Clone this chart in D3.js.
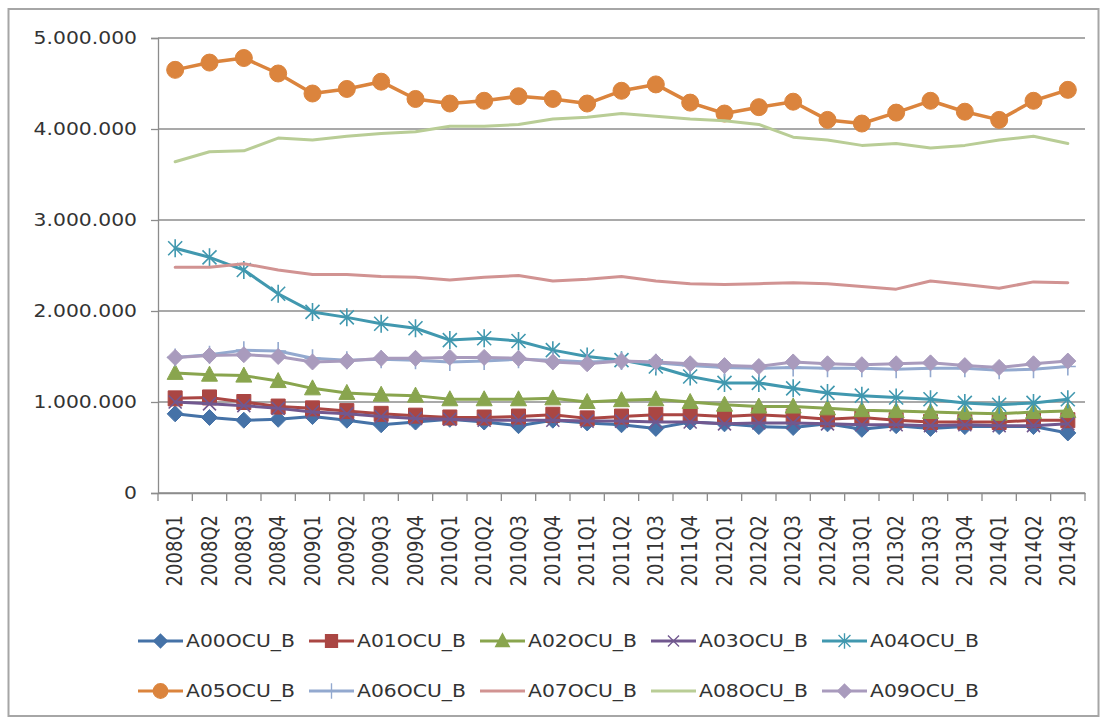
<!DOCTYPE html>
<html>
<head>
<meta charset="utf-8">
<script src="https://cdn.jsdelivr.net/npm/d3@7/dist/d3.min.js"></script>
<style>
  body { margin: 0; background: #fff; }
  text { font-family: "DejaVu Sans", sans-serif; fill: #333; }
</style>
</head>
<body>
<svg id="chart"></svg>
<script>
"use strict";

// Quarter labels on the x axis
const quarters = ["2008Q1", "2008Q2", "2008Q3", "2008Q4", "2009Q1", "2009Q2", "2009Q3", "2009Q4",
                  "2010Q1", "2010Q2", "2010Q3", "2010Q4", "2011Q1", "2011Q2", "2011Q3", "2011Q4",
                  "2012Q1", "2012Q2", "2012Q3", "2012Q4", "2013Q1", "2013Q2", "2013Q3", "2013Q4",
                  "2014Q1", "2014Q2", "2014Q3"];

const series_names = ["A00OCU_B", "A01OCU_B", "A02OCU_B", "A03OCU_B", "A04OCU_B",
                      "A05OCU_B", "A06OCU_B", "A07OCU_B", "A08OCU_B", "A09OCU_B"];

// Values
const a00 = [870000, 830000, 800000, 810000, 840000, 800000, 750000, 780000, 810000, 780000, 740000, 800000, 770000, 750000,
             710000, 780000, 760000, 730000, 720000, 760000, 700000, 740000, 710000, 730000, 730000, 730000, 660000];
const a01 = [1040000, 1050000, 1000000, 950000, 930000, 900000, 870000, 850000, 830000, 830000, 840000, 860000, 820000, 840000,
             860000, 860000, 840000, 860000, 840000, 810000, 830000, 800000, 780000, 780000, 780000, 800000, 800000];
const a02 = [1320000, 1300000, 1290000, 1230000, 1150000, 1100000, 1080000, 1070000, 1030000, 1030000, 1030000, 1040000, 1000000, 1020000,
             1030000, 1000000, 970000, 950000, 950000, 930000, 910000, 900000, 890000, 880000, 870000, 890000, 900000];
const a03 = [1000000, 980000, 960000, 930000, 890000, 870000, 840000, 820000, 810000, 800000, 800000, 800000, 790000, 790000,
             780000, 780000, 760000, 770000, 770000, 760000, 750000, 750000, 740000, 750000, 740000, 740000, 760000];
const a04 = [2690000, 2590000, 2450000, 2190000, 1990000, 1930000, 1860000, 1810000, 1680000, 1700000, 1670000, 1570000, 1500000, 1460000,
             1390000, 1280000, 1210000, 1210000, 1150000, 1100000, 1070000, 1050000, 1030000, 990000, 970000, 990000, 1030000];
const a05 = [4650000, 4730000, 4780000, 4610000, 4390000, 4440000, 4520000, 4330000, 4280000, 4310000, 4360000, 4330000, 4280000, 4420000,
             4490000, 4290000, 4170000, 4240000, 4300000, 4100000, 4060000, 4180000, 4310000, 4190000, 4100000, 4310000, 4430000];
const a06 = [1490000, 1520000, 1570000, 1560000, 1480000, 1460000, 1470000, 1460000, 1440000, 1450000, 1470000, 1460000, 1440000, 1450000,
             1430000, 1400000, 1380000, 1370000, 1380000, 1370000, 1370000, 1360000, 1370000, 1370000, 1350000, 1360000, 1390000];
const a07 = [2480000, 2480000, 2520000, 2450000, 2400000, 2400000, 2380000, 2370000, 2340000, 2370000, 2390000, 2330000, 2350000, 2380000,
             2330000, 2300000, 2290000, 2300000, 2310000, 2300000, 2270000, 2240000, 2330000, 2290000, 2250000, 2320000, 2310000];
const a08 = [3640000, 3750000, 3760000, 3900000, 3880000, 3920000, 3950000, 3970000, 4030000, 4030000, 4050000, 4110000, 4130000, 4170000,
             4140000, 4110000, 4090000, 4050000, 3910000, 3880000, 3820000, 3840000, 3790000, 3820000, 3880000, 3920000, 3840000];
const a09 = [1490000, 1510000, 1520000, 1500000, 1440000, 1450000, 1480000, 1480000, 1490000, 1490000, 1480000, 1440000, 1420000, 1450000,
             1440000, 1420000, 1400000, 1390000, 1440000, 1420000, 1410000, 1420000, 1430000, 1400000, 1380000, 1420000, 1450000];

const series_values = [a00, a01, a02, a03, a04, a05, a06, a07, a08, a09];

const series_colors = ["#4572a7", "#aa4643", "#89a54e", "#71588f", "#4198af",
                       "#db843d", "#93a9cf", "#d19392", "#b9cd96", "#a99bbd"];
const series_markers = ["diamond", "square", "triangle", "cross", "star",
                        "circle", "plus", "none", "none", "diamond"];

const y_ticks = [0, 1000000, 2000000, 3000000, 4000000, 5000000];

const WIDTH = 1100;
const HEIGHT = 720;
// the picture is a bit wider than tall, so glyphs get stretched horizontally
const SX = 1.13;
const FONT_SIZE = 18;

const margins = {top: 38, right: 15, bottom: 227, left: 158};
const plot_width = WIDTH - margins.left - margins.right;
const plot_height = HEIGHT - margins.top - margins.bottom;

const svg = d3.select("#chart")
    .attr("width", WIDTH)
    .attr("height", HEIGHT);

svg.append("rect")
    .attr("width", WIDTH)
    .attr("height", HEIGHT)
    .attr("fill", "white");

// Outer chart frame
svg.append("rect")
    .attr("x", 8.5)
    .attr("y", 9)
    .attr("width", 1090)
    .attr("height", 707)
    .attr("fill", "none")
    .attr("stroke", "#a6a6a6")
    .attr("stroke-width", 2);

const x_scale = d3.scaleBand()
    .domain(quarters)
    .range([0, plot_width]);

const y_scale = d3.scaleLinear()
    .domain([0, 5000000])
    .range([plot_height, 0]);

const locale = d3.formatLocale({decimal: ",", thousands: ".", grouping: [3], currency: ["", ""]});
const y_format = locale.format(",");

const plot = svg.append("g")
    .attr("transform", "translate(" + margins.left + "," + margins.top + ")");

// Horizontal gridlines
plot.append("g")
    .selectAll("line")
    .data(y_ticks)
    .join("line")
    .attr("x1", 0)
    .attr("x2", plot_width)
    .attr("y1", d => y_scale(d))
    .attr("y2", d => y_scale(d))
    .attr("stroke", "#8c8c8c")
    .attr("stroke-width", 1.3);

// Y axis
const y_axis = d3.axisLeft(y_scale)
    .tickValues(y_ticks)
    .tickFormat(y_format)
    .tickSize(7)
    .tickPadding(0);

const y_g = plot.append("g").call(y_axis);
y_g.select(".domain").attr("stroke", "#8c8c8c").attr("stroke-width", 1.3);
y_g.selectAll(".tick line").attr("stroke", "#8c8c8c").attr("stroke-width", 1.3);
y_g.selectAll(".tick text")
    .attr("x", -21 / SX)
    .attr("transform", "scale(" + SX + ",1)")
    .attr("font-size", FONT_SIZE)
    .attr("font-family", "DejaVu Sans")
    .attr("fill", "#333");

// X axis: labels at band centers, tick marks at band edges
const x_axis = d3.axisBottom(x_scale).tickSize(0).tickPadding(0);
const x_g = plot.append("g")
    .attr("transform", "translate(0," + plot_height + ")")
    .call(x_axis);
x_g.select(".domain").attr("stroke", "#8c8c8c").attr("stroke-width", 1.3);
x_g.selectAll(".tick text")
    .attr("x", 0)
    .attr("y", 0)
    .attr("dy", "0.35em")
    .attr("text-anchor", "end")
    .attr("transform", "translate(0,22) scale(" + SX + ",1) rotate(-90)")
    .attr("font-size", FONT_SIZE)
    .attr("font-family", "DejaVu Sans")
    .attr("fill", "#333");

const edges = quarters.map(q => x_scale(q)).concat([x_scale.range()[1]]);
x_g.selectAll(".edge")
    .data(edges)
    .join("line")
    .attr("class", "edge")
    .attr("x1", d => d)
    .attr("x2", d => d)
    .attr("y1", 0)
    .attr("y2", 8)
    .attr("stroke", "#8c8c8c")
    .attr("stroke-width", 1.3);

// Marker shapes, centred on 0,0
function marker_path(type) {
    var p = d3.path();
    switch (type) {
        case "diamond":
            p.moveTo(0, -8); p.lineTo(8, 0); p.lineTo(0, 8); p.lineTo(-8, 0); p.closePath();
            break;
        case "square":
            p.rect(-7, -7.5, 14, 15);
            break;
        case "triangle":
            p.moveTo(0, -8.5); p.lineTo(8, 6.5); p.lineTo(-8, 6.5); p.closePath();
            break;
        case "circle":
            p.arc(0, 0, 8.5, 0, 2 * Math.PI);
            break;
        case "cross":
            p.moveTo(-6.5, -6.5); p.lineTo(6.5, 6.5); p.moveTo(6.5, -6.5); p.lineTo(-6.5, 6.5);
            break;
        case "star":
            p.moveTo(-7, -7); p.lineTo(7, 7); p.moveTo(7, -7); p.lineTo(-7, 7);
            p.moveTo(0, -9); p.lineTo(0, 9);
            break;
        case "plus":
            p.moveTo(-8, 0); p.lineTo(8, 0); p.moveTo(0, -9); p.lineTo(0, 9);
            break;
    }
    return p.toString();
}

function is_filled(type) {
    return type === "diamond" || type === "square" || type === "triangle" || type === "circle";
}

const line = d3.line()
    .x((d, i) => x_scale(quarters[i]) + x_scale.bandwidth() / 2)
    .y(d => y_scale(d));

series_values.forEach(function (values, s) {
    const color = series_colors[s];
    const type = series_markers[s];
    const g = plot.append("g").attr("class", "series");

    g.append("path")
        .datum(values)
        .attr("d", line)
        .attr("fill", "none")
        .attr("stroke", color)
        .attr("stroke-width", s === 5 ? 3.5 : 3)
        .attr("stroke-linejoin", "round")
        .attr("stroke-linecap", "round");

    if (type !== "none") {
        g.selectAll(".marker")
            .data(values)
            .join("path")
            .attr("class", "marker")
            .attr("transform", (d, i) => "translate(" + (x_scale(quarters[i]) + x_scale.bandwidth() / 2) + "," + y_scale(d) + ")")
            .attr("d", marker_path(type))
            .attr("fill", is_filled(type) ? color : "none")
            .attr("stroke", color)
            .attr("stroke-width", is_filled(type) ? 1 : 1.6);
    }
});

// Legend: two rows of five
const legend_x0 = 138;
const legend_step = 171;
const legend_rows = [641, 691];

const legend = svg.append("g")
    .selectAll("g")
    .data(series_names)
    .join("g")
    .attr("transform", (d, i) => "translate(" + (legend_x0 + (i % 5) * legend_step) + "," + legend_rows[Math.floor(i / 5)] + ")");

legend.append("line")
    .attr("x1", 0)
    .attr("x2", 45)
    .attr("stroke", (d, i) => series_colors[i])
    .attr("stroke-width", 3);

legend.filter((d, i) => series_markers[i] !== "none")
    .append("path")
    .attr("transform", "translate(22.5,0) scale(0.85)")
    .attr("d", function (d) {
        return marker_path(series_markers[series_names.indexOf(d)]);
    })
    .attr("fill", function (d) {
        const i = series_names.indexOf(d);
        return is_filled(series_markers[i]) ? series_colors[i] : "none";
    })
    .attr("stroke", d => series_colors[series_names.indexOf(d)])
    .attr("stroke-width", 1.6);

legend.append("text")
    .attr("x", 48 / SX)
    .attr("dy", "0.35em")
    .attr("transform", "scale(" + SX + ",1)")
    .attr("font-size", FONT_SIZE)
    .text(d => d);
</script>
</body>
</html>
